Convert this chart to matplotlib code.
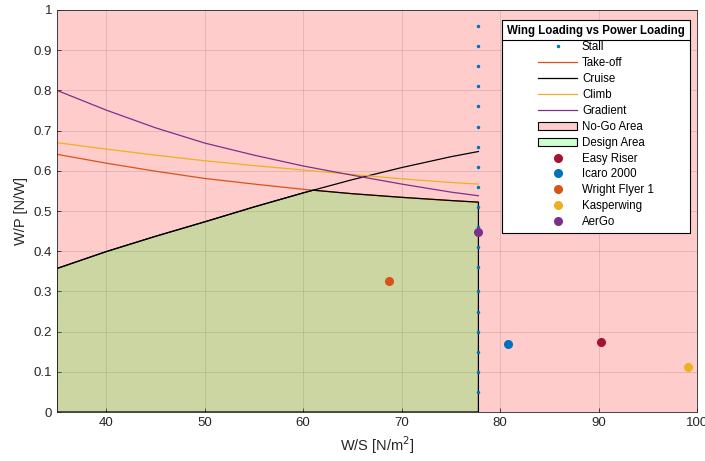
import numpy as np
import matplotlib
matplotlib.use("Agg")
import matplotlib.pyplot as plt
from matplotlib.patches import Patch
from matplotlib.lines import Line2D

plt.rcParams['font.family'] = ['Liberation Sans', 'DejaVu Sans']

# Wing loading grid [N/m^2] and constraint curves W/P [N/W]
ws = [35, 40, 45, 50, 55, 60, 65, 70, 75, 77.8]
takeoff = [0.641, 0.619, 0.599, 0.581, 0.567, 0.554, 0.543, 0.534, 0.526, 0.522]
cruise = [0.357, 0.399, 0.437, 0.473, 0.510, 0.545, 0.578, 0.608, 0.635, 0.648]
climb = [0.670, 0.654, 0.639, 0.625, 0.613, 0.602, 0.591, 0.580, 0.571, 0.567]
gradient = [0.800, 0.751, 0.707, 0.669, 0.639, 0.612, 0.589, 0.567, 0.547, 0.538]

# Stall limit
stall_ws = 77.8
stall_wp = [0.05, 0.10, 0.15, 0.20, 0.25, 0.30, 0.36, 0.41, 0.46, 0.51,
            0.56, 0.61, 0.66, 0.71, 0.76, 0.81, 0.86, 0.91, 0.96]

# Reference aircraft
aircraft = ['Easy Riser', 'Icaro 2000', 'Wright Flyer 1', 'Kasperwing', 'AerGo']
aircraft_ws = [90.2, 80.8, 68.7, 99.1, 77.8]
aircraft_wp = [0.174, 0.169, 0.327, 0.112, 0.448]
aircraft_colors = ['#A2142F', '#0072BD', '#D95319', '#EDB120', '#7E2F8E']

xlim = (35, 100)
ylim = (0, 1)

fig = plt.figure(figsize=(7.05, 4.61), dpi=100)
ax = fig.add_axes([57 / 705, 49 / 461, 640 / 705, 402 / 461])

nogo_face = (1.0, 0.0, 0.0, 0.2)
design_face = (0.0, 1.0, 0.0, 0.2)

# No-go region covers the whole plotting window
ax.fill_between(xlim, [ylim[0]] * 2, [ylim[1]] * 2, facecolor=nogo_face,
                edgecolor='none', zorder=1)

# Design region: below cruise and take-off, left of stall
x = np.array(ws, dtype=float)
c = np.array(cruise)
t = np.array(takeoff)
d = c - t
k = np.where(np.sign(d[:-1]) != np.sign(d[1:]))[0][0]
frac = d[k] / (d[k] - d[k + 1])
xc = x[k] + frac * (x[k + 1] - x[k])
yc = c[k] + frac * (c[k + 1] - c[k])
px = [x[0]] + list(x[:k + 1]) + [xc] + list(x[k + 1:]) + [x[-1]]
py = [0] + list(c[:k + 1]) + [yc] + list(t[k + 1:]) + [0]

lw = 0.9
ax.plot(ws, takeoff, color='#D95319', lw=lw, zorder=3)
ax.plot(ws, cruise, color='black', lw=lw, zorder=3)
ax.plot(ws, climb, color='#EDB120', lw=lw, zorder=3)
ax.plot(ws, gradient, color='#7E2F8E', lw=lw, zorder=3)
ax.fill(px, py, facecolor=design_face, edgecolor='black', linewidth=0.9, zorder=3.5)
ax.plot([stall_ws] * len(stall_wp), stall_wp, linestyle='none', marker='.',
        markersize=3, color='#0072BD', zorder=4)

for name, xv, yv, col in zip(aircraft, aircraft_ws, aircraft_wp, aircraft_colors):
    ax.plot(xv, yv, 'o', color=col, markersize=5.5, zorder=4.5)

ax.set_xlim(*xlim)
ax.set_ylim(*ylim)
ax.set_xticks([40, 50, 60, 70, 80, 90, 100])
ax.set_yticks(np.round(np.arange(0, 1.01, 0.1), 1))
ax.set_yticklabels(['0', '0.1', '0.2', '0.3', '0.4', '0.5', '0.6', '0.7', '0.8', '0.9', '1'])
ax.tick_params(direction='in', length=3, width=0.6, colors='#262626', labelsize=9.5)
for s in ax.spines.values():
    s.set_color('#262626')
    s.set_linewidth(0.6)
    s.set_zorder(5)
ax.grid(True, color='#262626', alpha=0.15, linewidth=0.6, zorder=2.5)
ax.set_axisbelow(False)

ax.set_xlabel('W/S [N/m$^2$]', fontsize=10.5, color='#262626')
ax.set_ylabel('W/P [N/W]', fontsize=10.5, color='#262626')

handles = [
    Line2D([], [], linestyle='none', marker='.', markersize=3, color='#0072BD'),
    Line2D([], [], color='#D95319', lw=lw),
    Line2D([], [], color='black', lw=lw),
    Line2D([], [], color='#EDB120', lw=lw),
    Line2D([], [], color='#7E2F8E', lw=lw),
    Patch(facecolor=(1.0, 0.8, 0.8), edgecolor='black', linewidth=0.8),
    Patch(facecolor=(0.8, 1.0, 0.8), edgecolor='black', linewidth=0.8),
] + [Line2D([], [], linestyle='none', marker='o', markersize=5.5, color=col)
     for col in aircraft_colors]
labels = ['Stall', 'Take-off', 'Cruise', 'Climb', 'Gradient', 'No-Go Area',
          'Design Area'] + aircraft

leg = ax.legend(handles, labels, loc='upper right',
                bbox_to_anchor=((690 - 57) / 640, (412 - 20) / 402),
                borderaxespad=0, fontsize=8.3, title='Wing Loading vs Power Loading',
                title_fontproperties={'weight': 'bold', 'size': 8.3},
                fancybox=False, framealpha=1, edgecolor='black',
                handlelength=3.4, handletextpad=0.4, labelspacing=0.34,
                borderpad=0.45, numpoints=1)
leg.get_frame().set_linewidth(0.8)
leg.set_zorder(10)

fig.canvas.draw()
r = fig.canvas.get_renderer()
fb = leg.get_frame().get_window_extent(r)
tb = leg.get_title().get_window_extent(r)
ysep = tb.y0 - 3
inv = fig.transFigure.inverted()
(x0f, yf), (x1f, _) = inv.transform([(fb.x0, ysep), (fb.x1, ysep)])
fig.add_artist(Line2D([x0f, x1f], [yf, yf], color='black', lw=0.8, zorder=11))

fig.savefig('out.png', dpi=100)
